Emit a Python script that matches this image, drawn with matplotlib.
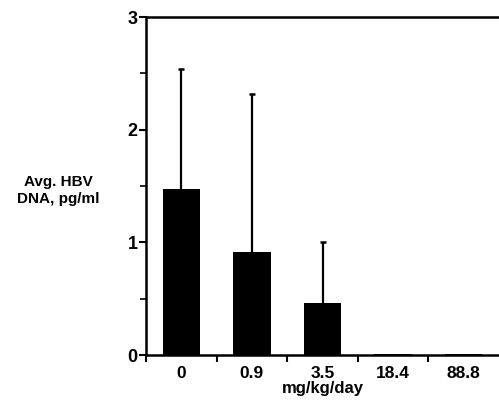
import matplotlib
matplotlib.use("Agg")
import matplotlib.pyplot as plt
from matplotlib.ticker import MultipleLocator, FixedLocator

# dose groups and mean serum HBV DNA (+ upper SD)
doses = ["0", "0.9", "3.5", "18.4", "88.8"]
mean_dna = [1.47, 0.91, 0.46, 0.01, 0.01]
sd_dna = [1.07, 1.41, 0.54, 0.0, 0.0]

plt.rcParams["font.family"] = ["Liberation Sans", "DejaVu Sans"]
plt.rcParams["font.weight"] = "bold"

fig = plt.figure(figsize=(4.99, 4.01), dpi=100)
ax = fig.add_axes([0.2926, 0.1147, 0.7074, 0.8429])

pos = list(range(len(doses)))
ax.bar(pos, mean_dna, width=0.53, color="black", zorder=2)

# upper-only error bars
err_pos = [p for p, s in zip(pos, sd_dna) if s > 0]
err_lo = [m for m, s in zip(mean_dna, sd_dna) if s > 0]
err_hi = [m + s for m, s in zip(mean_dna, sd_dna) if s > 0]
ax.vlines(err_pos, err_lo, err_hi, color="black", linewidth=1.6, zorder=3)
ax.plot(err_pos, err_hi, linestyle="none", marker="_", markersize=5,
        markeredgewidth=1.8, color="black", zorder=3)

ax.set_xlim(-0.5, 4.5)
ax.set_ylim(0, 3)
ax.spines["right"].set_visible(False)
for s in ("left", "bottom", "top"):
    ax.spines[s].set_linewidth(1.8)

ax.yaxis.set_major_locator(MultipleLocator(1))
ax.yaxis.set_minor_locator(MultipleLocator(0.5))
ax.tick_params(axis="y", which="major", length=5, width=1.5, labelsize=13, pad=1)
ax.tick_params(axis="y", which="minor", length=4, width=1.2)

ax.set_xticks(pos)
ax.set_xticklabels(doses, fontsize=12.5, fontweight="bold")
ax.tick_params(axis="x", which="major", length=0, pad=8)
ax.xaxis.set_minor_locator(FixedLocator([p - 0.5 for p in pos]))
ax.tick_params(axis="x", which="minor", length=5, width=1.5)

ax.set_xlabel("mg/kg/day", fontsize=12, fontweight="bold", labelpad=0)
fig.text(0.116, 0.525, "Avg. HBV\nDNA, pg/ml", ha="center", va="center",
         fontsize=11, fontweight="bold", linespacing=1.2)

fig.savefig("out.png", dpi=100)
